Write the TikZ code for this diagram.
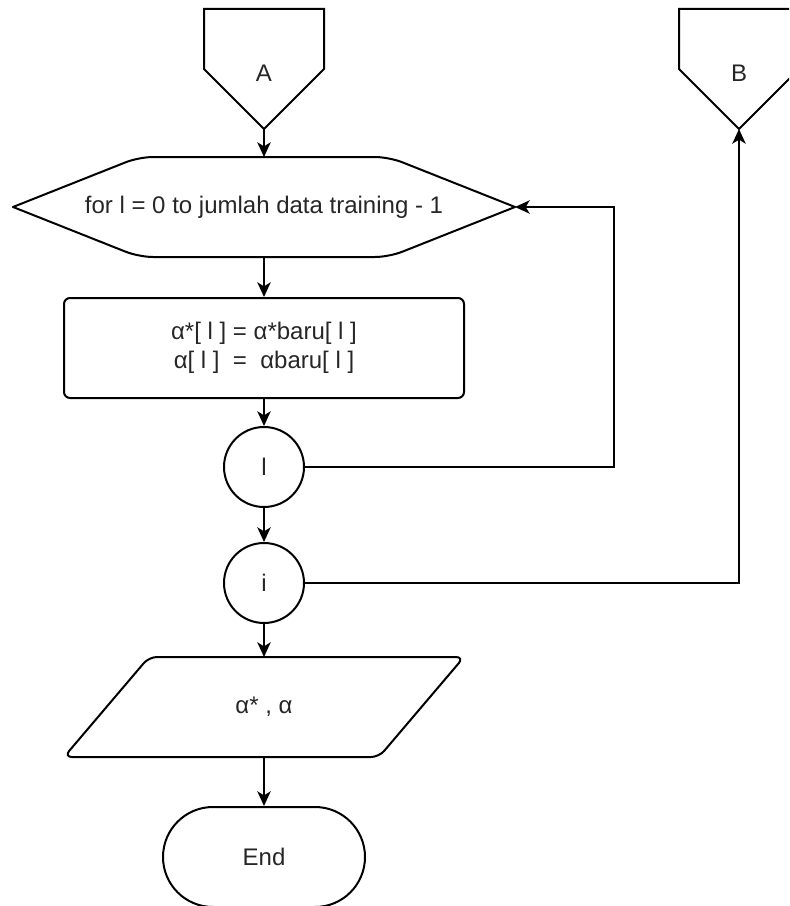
\documentclass[tikz,border=0pt]{standalone}
\usepackage{fontspec}
\setmainfont{Liberation Sans}
\usetikzlibrary{arrows.meta}
\newdimen\pxu \pxu=0.75pt
\definecolor{txt}{HTML}{262626}
\begin{document}
\begin{tikzpicture}[x=0.75pt,y=-0.75pt,
  line width=1.5pt,
  font=\fontsize{18}{22}\selectfont,
  every node/.style={text=txt},
  arr/.style={-{Stealth[length=11pt,width=10pt,inset=3pt]}},
  ghost/.style={draw=none,inner sep=0pt,outer sep=0pt},
  procbox/.style={draw,rounded corners=6\pxu,minimum width=400\pxu,minimum height=100\pxu,align=center,inner sep=0pt},
  conn/.style={draw,circle,minimum size=80\pxu,inner sep=0pt},
  termbox/.style={draw,rounded corners=50\pxu,minimum width=202\pxu,minimum height=100\pxu,inner sep=0pt}
]
\path[use as bounding box] (0,0) rectangle (789,906);
\clip (0,0) rectangle (789,906);

% off-page connectors
\node[ghost,minimum width=120\pxu,minimum height=120\pxu,label={[yshift=-4\pxu]center:A}] (A) at (264,69) {};
\draw (A.north west) -- (A.north east) -- (A.east) -- (A.south) -- (A.west) -- cycle;
\node[ghost,minimum width=120\pxu,minimum height=120\pxu,label={[yshift=-4\pxu]center:B}] (B) at (739,69) {};
\draw (B.north west) -- (B.north east) -- (B.east) -- (B.south) -- (B.west) -- cycle;

% loop hexagon
\node[ghost,minimum width=502\pxu,minimum height=100\pxu] (H) at (264,207) {for l = 0 to jumlah data training - 1};
\draw[rounded corners=14\pxu,line cap=round] (H.west) -- ([xshift=126\pxu]H.north west) -- ([xshift=-126\pxu]H.north east) -- (H.east);
\draw[rounded corners=14\pxu,line cap=round] (H.west) -- ([xshift=126\pxu]H.south west) -- ([xshift=-126\pxu]H.south east) -- (H.east);

% process
\node[procbox] (R) at (264,348) {α*[ l ] = α*baru[ l ]\\α[ l ]\ \ =\ \ αbaru[ l ]};

% connectors
\node[conn] (L) at (264,467) {l};
\node[conn] (I) at (264,583) {i};

% output
\node[ghost,minimum width=400\pxu,minimum height=100\pxu] (P) at (264,707) {α* , α};
\draw[rounded corners=8\pxu] ([xshift=85\pxu]P.north west) -- (P.north east) -- ([xshift=-85\pxu]P.south east) -- (P.south west) -- cycle;

% terminator
\node[termbox] (E) at (264,857) {End};

\coordinate (lx) at (614,207);

\draw[arr] (A.south) -- (H.north);
\draw[arr] (H.south) -- (R.north);
\draw[arr] (R.south) -- (L.north);
\draw[arr] (L.east) -| (lx) -- (H.east);
\draw[arr] (L.south) -- (I.north);
\draw[arr] (I.east) -| (B.south);
\draw[arr] (I.south) -- (P.north);
\draw[arr] (P.south) -- (E.north);
\end{tikzpicture}
\end{document}
